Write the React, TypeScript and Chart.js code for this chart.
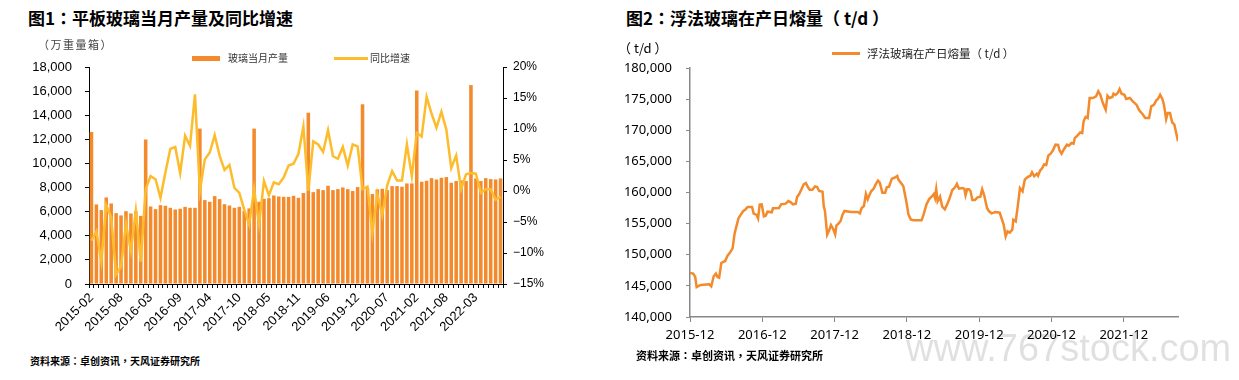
import React, { useEffect, useRef } from "react";
import { Chart, registerables } from "chart.js";

Chart.register(...registerables);

// ---------- Figure 1: monthly flat glass output (Jan merged into Feb) ----------
const prodLabels = [
  "2015-02","2015-03","2015-04","2015-05","2015-06","2015-07","2015-08","2015-09","2015-10","2015-11","2015-12",
  "2016-02","2016-03","2016-04","2016-05","2016-06","2016-07","2016-08","2016-09","2016-10","2016-11","2016-12",
  "2017-02","2017-03","2017-04","2017-05","2017-06","2017-07","2017-08","2017-09","2017-10","2017-11","2017-12",
  "2018-02","2018-03","2018-04","2018-05","2018-06","2018-07","2018-08","2018-09","2018-10","2018-11","2018-12",
  "2019-02","2019-03","2019-04","2019-05","2019-06","2019-07","2019-08","2019-09","2019-10","2019-11","2019-12",
  "2020-02","2020-03","2020-04","2020-05","2020-06","2020-07","2020-08","2020-09","2020-10","2020-11","2020-12",
  "2021-02","2021-03","2021-04","2021-05","2021-06","2021-07","2021-08","2021-09","2021-10","2021-11","2021-12",
  "2022-02","2022-03","2022-04","2022-05","2022-06","2022-07","2022-08",
];

// 万重量箱
const prodOutput = [
  12600, 6600, 6130, 7180, 6680, 5880, 5690, 6040, 5850, 6040, 5650,
  11980, 6430, 6210, 6540, 6490, 6320, 6180, 6240, 6400, 6320, 6320,
  12890, 6960, 6820, 7290, 7040, 6620, 6510, 6320, 6400, 6070, 6270,
  12890, 6820, 7070, 7120, 7340, 7260, 7230, 7230, 7310, 7150, 7550,
  14200, 7620, 7870, 7790, 8150, 7790, 7870, 8010, 7870, 7710, 8040,
  14900, 7980, 7460, 7850, 7900, 7790, 8120, 8120, 8070, 8340, 8340,
  16050, 8480, 8560, 8780, 8670, 8810, 8870, 8400, 8540, 8590, 8540,
  16500, 8760, 8540, 8780, 8700, 8670, 8760,
];

// %
const prodYoY = [
  -8.0, -6.5, -11.4, -2.3, -4.2, -13.5, -12.2, -5.3, -9.7, -3.2, -11.4,
  0.3, 2.4, 1.9, -1.1, 3.0, 6.8, 7.1, 2.9, 8.9, 7.3, 15.6,
  0.0, 5.1, 6.2, 9.0, 5.7, 3.4, 4.2, 0.5, -0.3, -3.0, -5.4,
  0.3, -5.4, 1.6, -0.7, 1.4, 1.1, 2.2, 4.1, 4.4, 6.0, 10.4,
  0.0, 8.0, 7.5, 6.3, 9.8, 5.6, 5.2, 7.1, 4.1, 7.5, 7.2,
  0.3, 0.7, -6.8, -0.5, -3.9, 0.9, 3.2, 1.7, 1.7, 7.5, 2.4,
  9.4, 8.8, 15.2, 12.5, 10.2, 12.8, 9.9, 3.7, 5.7, 0.3, 2.7,
  2.9, 2.8, -0.3, 0.3, 0.3, -1.4, -0.9,
];

// ---------- Figure 2: float glass daily melting capacity (t/d) ----------
const meltDates = [
  "2015-12-01","2015-12-17","2015-12-27","2016-01-04","2016-01-17","2016-01-25","2016-03-07","2016-03-17","2016-03-29","2016-04-10",
  "2016-04-18","2016-04-26","2016-05-07","2016-05-26","2016-06-08","2016-06-21","2016-07-03","2016-07-13","2016-07-22","2016-08-03",
  "2016-08-14","2016-08-26","2016-09-06","2016-09-18","2016-10-10","2016-10-18","2016-11-03","2016-11-10","2016-11-18","2016-11-28",
  "2016-12-09","2016-12-18","2016-12-27","2017-01-18","2017-01-24","2017-02-24","2017-03-05","2017-03-27","2017-04-11","2017-04-23",
  "2017-05-04","2017-05-18","2017-05-24","2017-06-04","2017-06-15","2017-06-27","2017-07-08","2017-07-18","2017-07-27","2017-08-10",
  "2017-08-24","2017-09-04","2017-09-14","2017-10-01","2017-10-07","2017-10-13","2017-10-24","2017-11-04","2017-11-13","2017-11-24",
  "2017-12-04","2017-12-10","2017-12-20","2018-01-01","2018-01-10","2018-01-20","2018-02-23","2018-03-26","2018-04-07","2018-04-16",
  "2018-04-27","2018-05-07","2018-05-16","2018-05-21","2018-06-03","2018-06-16","2018-06-25","2018-07-07","2018-07-16","2018-07-29",
  "2018-08-13","2018-08-21","2018-09-02","2018-09-16","2018-09-27","2018-10-13","2018-10-18","2018-10-28","2018-11-13","2018-11-28",
  "2018-12-09","2018-12-21","2019-01-05","2019-02-14","2019-02-24","2019-03-08","2019-03-21","2019-04-04","2019-04-15","2019-04-21",
  "2019-04-27","2019-05-04","2019-05-16","2019-05-27","2019-06-10","2019-06-21","2019-07-04","2019-07-17","2019-08-01","2019-08-10",
  "2019-08-20","2019-09-07","2019-09-17","2019-09-23","2019-10-01","2019-10-10","2019-10-18","2019-10-27","2019-11-10","2019-11-23",
  "2019-12-07","2019-12-16","2019-12-26","2020-01-10","2020-01-20","2020-02-03","2020-02-13","2020-02-22","2020-03-13","2020-03-22",
  "2020-04-03","2020-04-13","2020-04-22","2020-05-03","2020-05-16","2020-05-21","2020-06-03","2020-06-13","2020-06-24","2020-07-07",
  "2020-07-18","2020-08-02","2020-08-16","2020-08-24","2020-09-05","2020-09-18","2020-09-24","2020-10-05","2020-10-15","2020-10-24",
  "2020-11-05","2020-11-15","2020-11-27","2020-12-08","2020-12-21","2021-01-04","2021-01-11","2021-01-21","2021-02-04","2021-02-18",
  "2021-02-27","2021-03-11","2021-03-21","2021-03-27","2021-04-10","2021-04-24","2021-05-04","2021-05-11","2021-05-21","2021-06-01",
  "2021-06-11","2021-06-27","2021-07-13","2021-07-24","2021-08-04","2021-08-17","2021-09-01","2021-09-10","2021-09-20","2021-10-04",
  "2021-10-10","2021-10-20","2021-11-01","2021-11-10","2021-11-20","2021-12-04","2021-12-13","2022-01-01","2022-01-16","2022-02-04",
  "2022-02-18","2022-03-07","2022-03-18","2022-04-07","2022-04-18","2022-05-02","2022-05-13","2022-05-21","2022-06-02","2022-06-13",
  "2022-06-21","2022-07-02","2022-07-10","2022-07-21","2022-08-02","2022-08-13","2022-08-31",
];

const meltValues = [
  147070, 146970, 146430, 144820, 145040, 145150, 145250, 144930, 146540, 146970,
  146430, 146320, 148680, 149000, 149860, 150390, 151030, 153390, 154560, 155900,
  156440, 157030, 157240, 157670, 157670, 156600, 156390, 155850, 158050, 158100,
  156170, 156280, 156920, 156820, 157460, 157510, 158100, 158210, 158630, 158420,
  158100, 158210, 159280, 159700, 160450, 161310, 161530, 160880, 160450, 160450,
  160990, 160880, 160240, 160130, 157780, 157030, 153230, 153930, 154780, 154140,
  153280, 154670, 155000, 155420, 156390, 157030, 156870, 156870, 156650, 157510,
  157830, 159760, 158900, 159330, 160190, 160620, 161260, 161900, 161580, 159970,
  159970, 160830, 160940, 162220, 162330, 162650, 162110, 161680, 161040, 158580,
  156440, 155640, 155530, 155530, 156440, 158050, 158900, 159330, 159760, 159120,
  160510, 158580, 159330, 157720, 157300, 158050, 159120, 160400, 160830, 161370,
  160620, 160720, 160620, 159550, 160510, 160510, 160190, 158800, 158800, 159220,
  159330, 160510, 159550, 157510, 156980, 156650, 156760, 156870, 156760, 155900,
  154830, 152960, 153760, 153550, 154030, 155640, 155370, 157780, 160720, 160190,
  162060, 162490, 162700, 163240, 162600, 163020, 162700, 163560, 163930, 164520,
  164420, 165920, 166240, 166770, 167680, 167630, 166770, 166240, 166990, 167680,
  167520, 167950, 167840, 168750, 169130, 169660, 169560, 171430, 172130, 171970,
  175180, 175180, 175440, 176250, 175710, 174370, 173300, 175550, 175180, 175340,
  175870, 175660, 175980, 176620, 175870, 175710, 175020, 175180, 174640, 174110,
  173200, 172500, 171970, 171970, 173840, 174110, 174800, 175020, 175710, 175020,
  174110, 171800, 172770, 172770, 171270, 170890, 168220,
];

const meltTickLabels = ["2015-12", "2016-12", "2017-12", "2018-12", "2019-12", "2020-12", "2021-12"];

// ---------- styling ----------
const ORANGE = "#F38A2C";
const YELLOW = "#FDBC2C";
const LATIN = '"Liberation Sans", Arial, sans-serif';
const SANS2 = '"Noto Sans", "Liberation Sans", sans-serif';
const CJK = '"Noto Sans CJK SC", "Noto Sans", sans-serif';
const PUNCT = '"Noto Sans CJK TC", "Noto Sans CJK SC", sans-serif';

function monthsFromStart(s: string): number {
  const [y, m, d] = s.split("-").map(Number);
  return (y - 2015) * 12 + (m - 12) + ((d || 1) - 1) / 30;
}

function fmtThousands(v: number): string {
  return Math.round(v).toString().replace(/\B(?=(\d{3})+(?!\d))/g, ",");
}

function ProductionChart() {
  const ref = useRef<HTMLCanvasElement>(null);
  useEffect(() => {
    const chart = new Chart(ref.current as HTMLCanvasElement, {
      type: "bar",
      data: {
        labels: prodLabels,
        datasets: [
          {
            type: "bar",
            label: "玻璃当月产量",
            data: prodOutput,
            backgroundColor: ORANGE,
            yAxisID: "y",
            order: 2,
            barPercentage: 0.72,
            categoryPercentage: 1,
          } as any,
          {
            type: "line",
            label: "同比增速",
            data: prodYoY,
            borderColor: YELLOW,
            backgroundColor: YELLOW,
            borderWidth: 2.5,
            pointRadius: 0,
            tension: 0,
            yAxisID: "y1",
            order: 1,
          } as any,
        ],
      },
      options: {
        animation: false,
        responsive: false,
        events: [],
        layout: { padding: { top: 27, left: 0, right: 0, bottom: 0 } },
        plugins: { legend: { display: false }, tooltip: { enabled: false } },
        scales: {
          x: {
            grid: { display: true, drawOnChartArea: false, offset: true, tickLength: 4, color: "#000" },
            border: { display: true, color: "#000", width: 1 },
            ticks: {
              autoSkip: false,
              minRotation: 45,
              maxRotation: 45,
              padding: 2,
              color: "#000",
              font: { family: LATIN, size: 13 },
              callback: (_v: any, i: number) => (i % 6 === 0 ? prodLabels[i] : ""),
            },
            afterFit: (s: any) => {
              s.height = 66;
            },
          },
          y: {
            position: "left",
            min: 0,
            max: 18000,
            grid: { display: true, drawOnChartArea: false, tickLength: 4, color: "#000" },
            border: { display: true, color: "#000", width: 1 },
            ticks: {
              stepSize: 2000,
              padding: 13,
              color: "#000",
              font: { family: LATIN, size: 13 },
              callback: (v: any) => fmtThousands(Number(v)),
            },
            afterFit: (s: any) => {
              s.width = 89;
            },
          },
          y1: {
            position: "right",
            min: -15,
            max: 20,
            grid: { display: true, drawOnChartArea: false, tickLength: 4, color: "#000" },
            border: { display: true, color: "#000", width: 1 },
            ticks: {
              stepSize: 5,
              padding: 6,
              color: "#000",
              font: { family: LATIN, size: 12 },
              callback: (v: any) => (Number(v) < 0 ? "\u2212" + Math.abs(Number(v)) : String(v)) + "%",
            },
            afterFit: (s: any) => {
              s.width = 107;
            },
          },
        },
      },
    });
    return () => chart.destroy();
  }, []);
  return (
    <canvas
      ref={ref}
      width={610}
      height={310}
      style={{ position: "absolute", left: 0, top: 40, width: 610, height: 310 }}
    />
  );
}

function MeltChart() {
  const ref = useRef<HTMLCanvasElement>(null);
  useEffect(() => {
    const points = meltDates.map((d, i) => ({ x: monthsFromStart(d), y: meltValues[i] }));
    const tickValues = meltTickLabels.map((l) => monthsFromStart(l + "-01"));
    const chart = new Chart(ref.current as HTMLCanvasElement, {
      type: "line",
      data: {
        datasets: [
          {
            label: "浮法玻璃在产日熔量（t/d）",
            data: points,
            borderColor: ORANGE,
            backgroundColor: ORANGE,
            borderWidth: 2.5,
            pointRadius: 0,
            tension: 0,
          } as any,
        ],
      },
      options: {
        animation: false,
        responsive: false,
        events: [],
        layout: { padding: { top: 28, left: 0, right: 61, bottom: 0 } },
        plugins: { legend: { display: false }, tooltip: { enabled: false } },
        scales: {
          x: {
            type: "linear",
            min: 0,
            max: monthsFromStart(meltDates[meltDates.length - 1]),
            grid: { display: true, drawOnChartArea: false, tickLength: 5, color: "#888" },
            border: { display: true, color: "#888", width: 1.5 },
            afterBuildTicks: (s: any) => {
              s.ticks = tickValues.map((v) => ({ value: v }));
            },
            ticks: {
              autoSkip: false,
              maxRotation: 0,
              minRotation: 0,
              padding: 5,
              color: "#000",
              font: { family: SANS2, size: 13 },
              callback: (_v: any, i: number) => meltTickLabels[i],
            },
            afterFit: (s: any) => {
              s.height = 33;
            },
          },
          y: {
            min: 140000,
            max: 180000,
            grid: { display: true, drawOnChartArea: false, tickLength: 4, color: "#888" },
            border: { display: true, color: "#888", width: 1.5 },
            ticks: {
              stepSize: 5000,
              padding: 14,
              color: "#000",
              font: { family: SANS2, size: 13 },
              callback: (v: any) => fmtThousands(Number(v)),
            },
            afterFit: (s: any) => {
              s.width = 80;
            },
          },
        },
      },
    });
    return () => chart.destroy();
  }, []);
  return (
    <canvas
      ref={ref}
      width={629}
      height={310}
      style={{ position: "absolute", left: 610, top: 40, width: 629, height: 310 }}
    />
  );
}

const abs = (s: React.CSSProperties): React.CSSProperties => ({ position: "absolute", whiteSpace: "nowrap", ...s });
const P = ({ children }: { children: React.ReactNode }) => <span style={{ fontFamily: PUNCT }}>{children}</span>;

export default function App() {
  return (
    <div
      style={{
        position: "absolute",
        left: 0,
        top: 0,
        width: 1239,
        height: 380,
        background: "#fff",
        overflow: "hidden",
        fontFamily: CJK,
      }}
    >
      <ProductionChart />
      <MeltChart />

      {/* Figure 1 texts */}
      <div style={abs({ left: 28, top: 7, fontSize: 17, lineHeight: "22px", fontWeight: 700, color: "#000" })}>
        图1<P>：</P>平板玻璃当月产量及同比增速
      </div>
      <div style={abs({ left: 38, top: 36, fontSize: 11, lineHeight: "16px", letterSpacing: 1.5, color: "#444" })}>
        （万重量箱）
      </div>
      <div style={abs({ left: 192, top: 56, width: 28, height: 5, background: ORANGE })} />
      <div style={abs({ left: 228, top: 51, fontSize: 10, lineHeight: "14px", color: "#333" })}>玻璃当月产量</div>
      <div style={abs({ left: 334, top: 57, width: 34, height: 2.5, background: YELLOW })} />
      <div style={abs({ left: 370, top: 51, fontSize: 10, lineHeight: "14px", color: "#333" })}>同比增速</div>
      <div style={abs({ left: 30, top: 353, fontSize: 10, lineHeight: "15px", fontWeight: 700, color: "#000" })}>
        资料来源<P>：</P>卓创资讯<P>，</P>天风证券研究所
      </div>

      {/* Figure 2 texts */}
      <div style={abs({ left: 626, top: 7, fontSize: 17, lineHeight: "22px", fontWeight: 700, color: "#000" })}>
        图2<P>：</P>浮法玻璃在产日熔量<P>（</P> t/d <P>）</P>
      </div>
      <div style={abs({ left: 618, top: 39, fontSize: 13, lineHeight: "18px", color: "#000" })}>
        <P>（</P> t/d <P>）</P>
      </div>
      <div style={abs({ left: 832, top: 52, width: 28, height: 2.5, background: ORANGE })} />
      <div style={abs({ left: 867, top: 45, fontSize: 11.5, lineHeight: "16px", color: "#222" })}>
        浮法玻璃在产日熔量<P>（</P> t/d <P>）</P>
      </div>
      <div style={abs({ left: 636, top: 347, fontSize: 11, lineHeight: "16px", fontWeight: 700, color: "#000" })}>
        资料来源<P>：</P>卓创资讯<P>，</P>天风证券研究所
      </div>

      {/* watermark */}
      <div
        style={abs({
          left: 906,
          top: 325,
          fontSize: 38,
          lineHeight: "46px",
          fontFamily: LATIN,
          color: "rgba(0,0,0,0.12)",
          pointerEvents: "none",
        })}
      >
        www.767stock.com
      </div>
    </div>
  );
}
